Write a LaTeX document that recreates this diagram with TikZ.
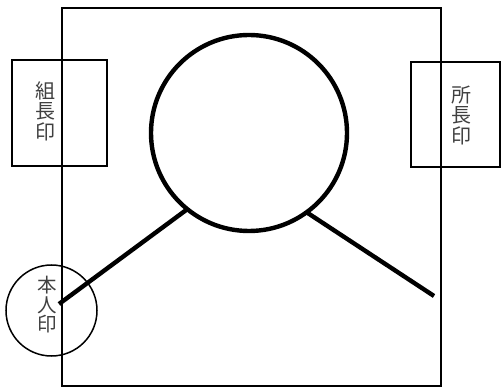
\documentclass[tikz,border=0pt]{standalone}
\usepackage{fontspec}
\newfontfamily\jp{Noto Sans CJK JP}
\begin{document}
\begin{tikzpicture}[x=1pt,y=1pt,
  thin line/.style={draw=black,line width=1.5pt},
  thick line/.style={draw=black,line width=4.4pt},
  seal text/.style={font=\jp\fontsize{20}{20.5}\selectfont,text=black!75,align=center,inner sep=0pt},
  seal box/.style={thin line,rectangle,inner sep=0pt}]
\useasboundingbox (0,0) rectangle (502,388);
% main frame
\node[seal box,minimum width=379pt,minimum height=378pt] (frame) at (251.5,191) {};
% boxes
\node[seal box,minimum width=95pt,minimum height=106pt] (gbox) at (59.5,275) {};
\node[seal text] (gtext) at (45,277) {組\\長\\印};
\node[seal box,minimum width=89pt,minimum height=105pt] (sbox) at (455.5,273.5) {};
\node[seal text] (stext) at (461,273) {所\\長\\印};
% personal seal
\node[thin line,circle,minimum size=91pt,inner sep=0pt] (hcirc) at (51.5,77.5) {};
\node[seal text,font=\jp\fontsize{19.5}{19.5}\selectfont] (htext) at (47,83) {本\\人\\印};
% face circle
\node[thick line,circle,minimum size=196pt,inner sep=0pt,outer sep=0pt] (face) at (249,255) {};
\coordinate (lend) at (59,84);
\coordinate (rend) at (434,92);
\draw[thick line] (face.231.9) -- (lend);
\draw[thick line] (face.306.5) -- (rend);
\end{tikzpicture}
\end{document}
